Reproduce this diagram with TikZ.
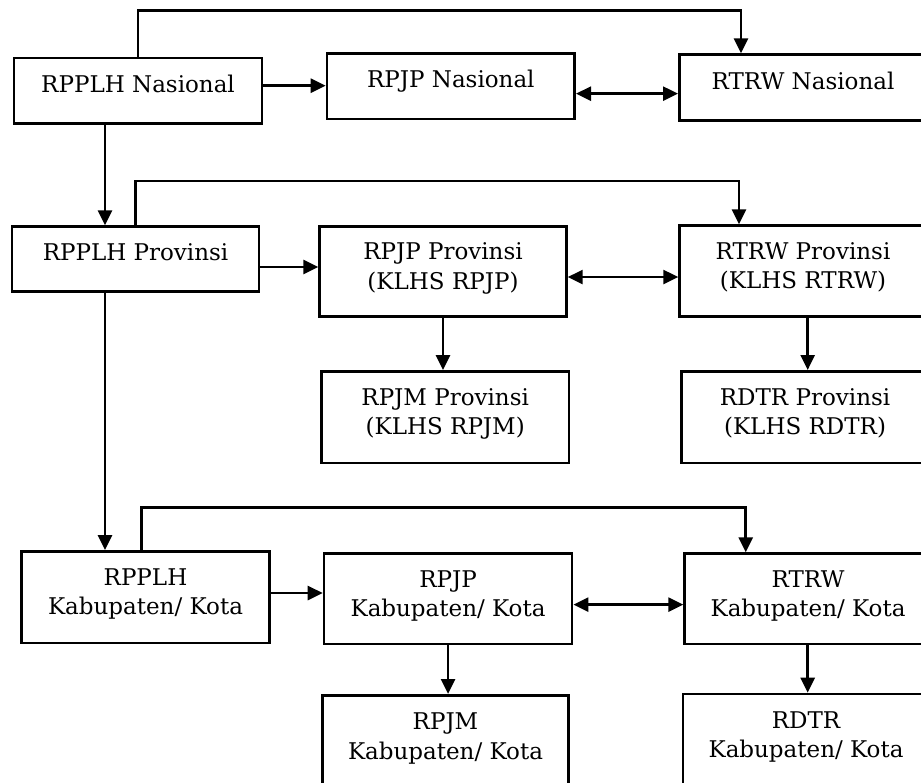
\documentclass[tikz,border=0pt]{standalone}
\usepackage{fontspec}
\setmainfont{DejaVu Serif}
\usetikzlibrary{arrows.meta}

\begin{document}
\begin{tikzpicture}[x=1pt,y=-1pt,
  box/.style={draw, line width=2.7pt, anchor=north west, align=center, inner sep=0pt,
    font=\fontsize{23}{29.5}\selectfont},
  oneline/.style={text height=17pt, text depth=14pt},
  twoline/.style={text height=46.5pt, text depth=11pt},
  arr/.style={line width=2.7pt, -{Triangle[length=15pt,width=14pt]}},
  darr/.style={line width=2.7pt, {Triangle[length=15pt,width=14pt]}-{Triangle[length=15pt,width=14pt]}}]
\useasboundingbox (0,0) rectangle (921,782);

% nasional
\node[box, oneline, minimum width=248pt, minimum height=65.6pt] (nasPPLH) at (12.7,56.7) {RPPLH Nasional};
\node[box, oneline, minimum width=247.6pt, minimum height=65.4pt] (nasRPJP) at (325.7,52.3) {RPJP Nasional};
\node[box, oneline, minimum width=247.4pt, minimum height=65.7pt] (nasRTRW) at (678,53.3) {RTRW Nasional};

% provinsi
\node[box, oneline, minimum width=247pt, minimum height=64.7pt] (provPPLH) at (10.7,225.3) {RPPLH Provinsi};
\node[box, twoline, minimum width=246.7pt, minimum height=90pt] (provRPJP) at (318.3,225) {RPJP Provinsi\\(KLHS RPJP)};
\node[box, twoline, minimum width=246.8pt, minimum height=90.7pt] (provRTRW) at (678.3,224.3) {RTRW Provinsi\\(KLHS RTRW)};
\node[box, twoline, minimum width=247.7pt, minimum height=91.7pt] (provRPJM) at (320,370) {RPJM Provinsi\\(KLHS RPJM)};
\node[box, twoline, minimum width=247.4pt, minimum height=91.7pt] (provRDTR) at (680,370) {RDTR Provinsi\\(KLHS RDTR)};

% kabupaten/kota
\node[box, twoline, minimum width=248.3pt, minimum height=91.7pt] (kabPPLH) at (20,550) {RPPLH\\Kabupaten/ Kota};
\node[box, twoline, minimum width=248pt, minimum height=90.4pt] (kabRPJP) at (322.7,552.3) {RPJP\\Kabupaten/ Kota};
\node[box, twoline, minimum width=246.8pt, minimum height=90.4pt] (kabRTRW) at (683.3,552.3) {RTRW\\Kabupaten/ Kota};
\node[box, twoline, minimum width=246.3pt, minimum height=92pt] (kabRPJM) at (321,694) {RPJM\\Kabupaten/ Kota};
\node[box, twoline, minimum width=246pt, minimum height=92pt] (kabRDTR) at (681.7,692.7) {RDTR\\Kabupaten/ Kota};

% lines over the top
\coordinate (nasBus) at (0,10.7);
\coordinate (provBus) at (0,181);
\coordinate (kabBus) at (0,507.3);
\draw[arr] (nasPPLH.north) -- (nasPPLH.north |- nasBus) -| ([xshift=63pt]nasRTRW.north west);
\draw[arr] (provPPLH.north) -- (provPPLH.north |- provBus) -| ([xshift=60.7pt]provRTRW.north west);
\coordinate (kabUp) at ([xshift=121.7pt]kabPPLH.north west);
\draw[arr] (kabUp) -- (kabUp |- kabBus) -| ([xshift=62.4pt]kabRTRW.north west);

% across
\coordinate (nasA) at ([yshift=5.2pt]nasPPLH.east);
\draw[arr] (nasA) -- (nasA -| nasRPJP.west);
\coordinate (nasB) at ([yshift=-7.3pt]nasRPJP.east);
\draw[darr] (nasB) -- (nasB -| nasRTRW.west);
\coordinate (provA) at ([yshift=-8pt]provPPLH.east);
\draw[arr] (provA) -- (provA -| provRPJP.west);
\coordinate (provB) at ([yshift=-5.7pt]provRPJP.east);
\draw[darr] (provB) -- (provB -| provRTRW.west);
\coordinate (kabA) at ([yshift=4.2pt]kabPPLH.east);
\draw[arr] (kabA) -- (kabA -| kabRPJP.west);
\coordinate (kabB) at ([yshift=-5.8pt]kabRPJP.east);
\draw[darr] (kabB) -- (kabB -| kabRTRW.west);

% down
\coordinate (nasDown) at ([xshift=92.3pt]nasPPLH.south west);
\draw[arr] (nasDown) -- (nasDown |- provPPLH.north);
\coordinate (provDown) at ([xshift=94.3pt]provPPLH.south west);
\draw[arr] (provDown) -- (provDown |- kabPPLH.north);
\draw[arr] (provRPJP.south) -- (provRPJP.south |- provRPJM.north);
\coordinate (provRdown) at ([xshift=129.4pt]provRTRW.south west);
\draw[arr] (provRdown) -- (provRdown |- provRDTR.north);
\draw[arr] (kabRPJP.south) -- (kabRPJP.south |- kabRPJM.north);
\coordinate (kabRdown) at ([xshift=124.4pt]kabRTRW.south west);
\draw[arr] (kabRdown) -- (kabRdown |- kabRDTR.north);
\end{tikzpicture}
\end{document}
